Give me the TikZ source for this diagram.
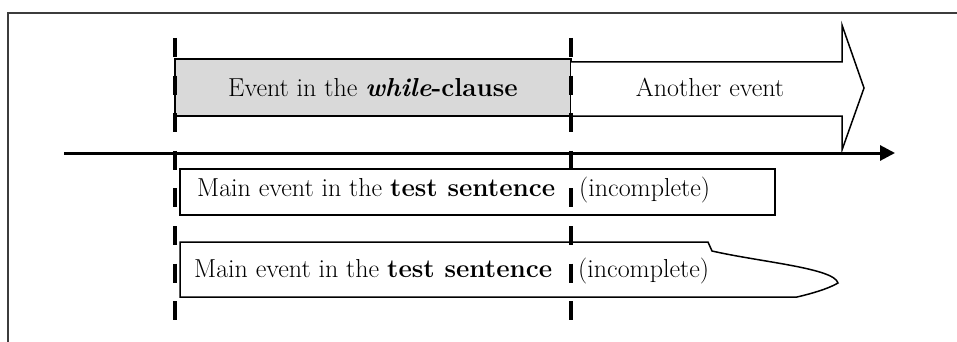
\documentclass[tikz,border=0pt]{standalone}
\usetikzlibrary{arrows.meta}
\definecolor{boxgrey}{RGB}{217,217,217}
\definecolor{framegrey}{RGB}{60,60,60}
\begin{document}
\begin{tikzpicture}[x=1pt,y=-1pt,
  lbl/.style={inner sep=0pt,anchor=base west,font=\fontsize{26}{30}\selectfont},
  clbl/.style={inner sep=0pt,anchor=base,font=\fontsize{26}{30}\selectfont},
  shapeline/.style={draw=black,line width=1.5pt,line join=miter},
  marker/.style={line width=4pt,dash pattern=on 19pt off 18.6pt},
  axis/.style={line width=3pt,-{Triangle[length=15pt,width=15pt]}}]
\useasboundingbox (0,0) rectangle (957,342);
% frame (top and left only)
\draw[framegrey,line width=1.5pt] (957,13) -- (8,13) -- (8,342);
% grey box
\draw[shapeline,fill=boxgrey] (175,59) rectangle (571,116);
% another event arrow
\draw[shapeline,fill=white] (571,62) -- (842,62) -- (842,25) -- (864,88) -- (842,150) -- (842,116) -- (571,116);
% timeline
\coordinate (tstart) at (64,153);
\coordinate (tend) at (895,153);
\draw[axis] (tstart) -- (tend);
% box 1
\draw[shapeline,fill=white] (180,169) rectangle (775,215);
% box 2
\draw[shapeline,fill=white] (180,242) -- (708,242) -- (712,251)
  .. controls (760,262) and (834,268) .. (838,283)
  .. controls (828,289) and (810,294) .. (797,297) -- (180,297) -- cycle;
% texts
\node[clbl] (wc) at (373,96) {Event in the \textbf{\textit{while}}\textbf{-clause}};
\node[clbl] (ae) at (710,96) {Another event};
\node[lbl] (m1) at (197,196) {Main event in the \textbf{test sentence}};
\node[lbl] (i1) at (579,196) {(incomplete)};
\node[lbl] (m2) at (194,277) {Main event in the \textbf{test sentence}};
\node[lbl] (i2) at (578,277) {(incomplete)};
% boundary markers
\coordinate (la) at (175,38);
\coordinate (lb) at (175,321);
\coordinate (ra) at (571,38);
\coordinate (rb) at (571,321);
\draw[marker] (la) -- (lb);
\draw[marker] (ra) -- (rb);
\end{tikzpicture}
\end{document}
